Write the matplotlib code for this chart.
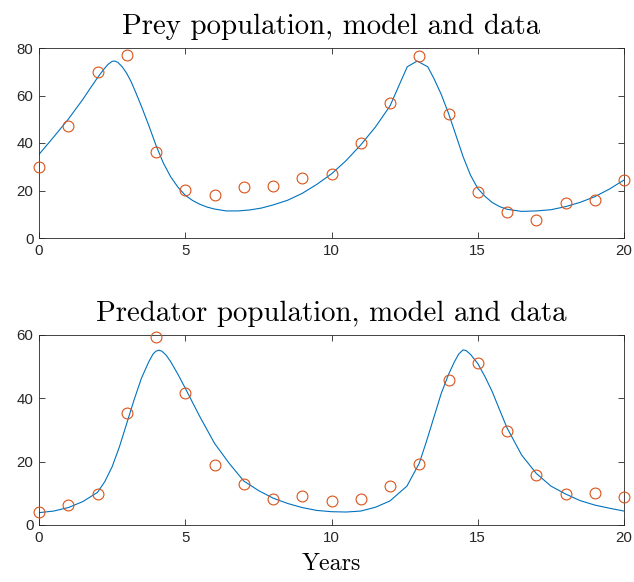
import matplotlib
matplotlib.use("Agg")
import matplotlib.pyplot as plt

# ---- data ----
years = list(range(0, 21))
prey_data = [30.0, 47.0, 70.0, 77.1, 36.1, 20.3, 18.0, 21.3, 21.9, 25.4, 26.9,
             40.1, 57.0, 76.6, 52.2, 19.4, 11.1, 7.4, 14.6, 16.1, 24.5]
pred_data = [4.0, 6.2, 9.9, 35.3, 59.5, 41.8, 19.0, 13.0, 8.3, 9.3, 7.5,
             8.1, 12.4, 19.4, 45.7, 51.3, 29.8, 15.9, 9.9, 10.2, 8.7]

prey_t = [0, 0.5, 1, 1.5, 1.75, 2, 2.2, 2.35, 2.5, 2.6, 2.7, 2.85, 3, 3.15,
          3.3, 3.5, 3.75, 4, 4.25, 4.5, 4.75, 5, 5.25, 5.5, 5.75, 6, 6.4, 6.8,
          7.2, 7.6, 8, 8.5, 9, 9.5, 10, 10.5, 11, 11.5, 12, 12.3, 12.59, 12.93,
          13.29, 13.5, 13.75, 14, 14.25, 14.5, 14.75, 15, 15.25, 15.5, 15.75,
          16, 16.5, 17, 17.5, 18, 18.5, 19, 19.5, 20]
prey_model = [35.2, 42.5, 50.0, 58.4, 63.0, 67.5, 70.8, 73.0, 74.4, 74.5, 73.9,
              72.0, 69.3, 65.8, 61.5, 55.5, 47.5, 39.0, 31.6, 25.8, 21.4, 18.0,
              15.8, 14.2, 13.0, 12.2, 11.4, 11.4, 11.8, 12.6, 13.9, 15.9, 18.8,
              22.6, 27.0, 32.6, 39.2, 46.7, 55.6, 64.0, 72.1, 74.5, 72.1, 67.2,
              60.5, 52.5, 43.4, 34.2, 26.5, 20.9, 17.5, 14.9, 13.2, 12.1, 11.2,
              11.4, 11.9, 13.2, 15.0, 17.4, 20.6, 24.4]

pred_t = [0, 0.5, 1, 1.5, 2, 2.25, 2.5, 2.75, 3, 3.25, 3.5, 3.75, 3.9, 4.0, 4.1,
          4.2, 4.35, 4.5, 4.75, 5, 5.5, 6, 6.5, 7, 7.5, 8, 8.5, 9, 9.5, 10,
          10.5, 11, 11.5, 12, 12.58, 13, 13.25, 13.5, 13.75, 14, 14.2, 14.35,
          14.5, 14.6, 14.75, 15, 15.25, 15.5, 15.75, 16, 16.5, 17, 17.5, 18,
          18.5, 19, 19.5, 20]
pred_model = [3.9, 4.4, 5.5, 7.4, 10.3, 13.7, 18.4, 24.7, 32.1, 39.5, 46.3,
              51.5, 54.0, 54.9, 55.2, 54.9, 53.6, 51.6, 47.6, 43.2, 34.2, 25.8,
              19.5, 13.9, 10.9, 8.5, 6.8, 5.5, 4.6, 4.2, 4.1, 4.4, 5.6, 7.6,
              12.3, 19.5, 26.5, 34.0, 41.5, 47.5, 51.5, 54.0, 55.3, 55.1, 53.9,
              51.0, 46.8, 42.0, 36.3, 30.7, 22.1, 16.3, 12.3, 9.8, 7.7, 6.3,
              5.3, 4.4]

x_ticks = [0, 5, 10, 15, 20]
prey_yticks = [0, 20, 40, 60, 80]
pred_yticks = [0, 20, 40, 60]

titles = ["Prey population, model and data", "Predator population, model and data"]
xlabel = "Years"

# ---- style ----
line_c = "#0072BD"
mark_c = "#D95319"
ax_c = "#262626"
plt.rcParams["font.family"] = ["Liberation Sans", "DejaVu Sans"]

fig = plt.figure(figsize=(6.34, 5.82), dpi=100)
left, width, height = 39 / 634, 585 / 634, 190 / 582
ax1 = fig.add_axes([left, (582 - 238) / 582, width, height])
ax2 = fig.add_axes([left, (582 - 525) / 582, width, height])

for ax, tt, tm, yd, yt, ttl in [
        (ax1, prey_t, prey_model, prey_data, prey_yticks, titles[0]),
        (ax2, pred_t, pred_model, pred_data, pred_yticks, titles[1])]:
    ax.plot(tt, tm, color=line_c, lw=0.8, zorder=2)
    ax.plot(years, yd, linestyle="none", marker="o", markersize=7.8,
            markerfacecolor="none", markeredgecolor=mark_c, markeredgewidth=0.8,
            zorder=3, clip_on=False)
    ax.set_xlim(0, 20)
    ax.set_ylim(yt[0], yt[-1])
    ax.set_xticks(x_ticks)
    ax.set_yticks(yt)
    ax.tick_params(direction="in", length=4.3, width=0.6, colors=ax_c,
                   labelsize=10.8, top=True, right=True, pad=4)
    for s in ax.spines.values():
        s.set_color(ax_c)
        s.set_linewidth(0.6)
    ax.set_title(ttl, fontfamily="cmr10", fontsize=20.8, color="black", pad=10)

ax2.set_xlabel(xlabel, fontfamily="cmr10", fontsize=17.2, color="black", labelpad=6)

fig.savefig("out.png", dpi=100)
